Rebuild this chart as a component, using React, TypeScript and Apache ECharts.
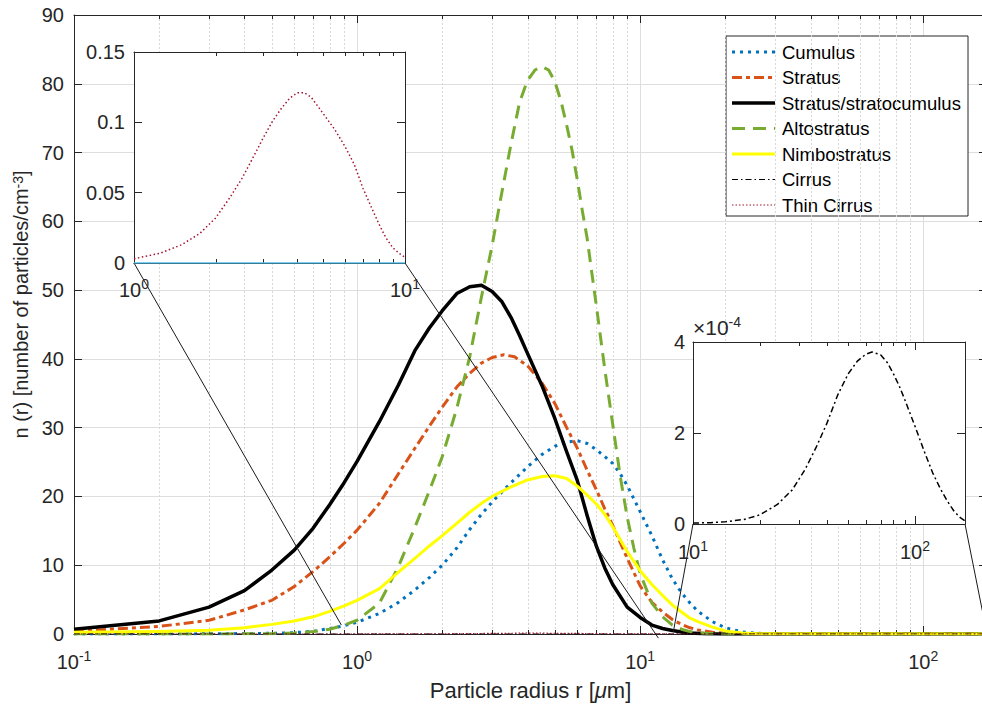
import React, { useEffect, useRef } from "react";
import * as echarts from "echarts";

// ---------------- DATA ----------------
// Main plot: particle radius r [µm] vs n(r) [particles / cm^-3]
const cumulusR = [0.1, 0.3, 0.5, 0.6, 0.7, 0.8, 0.9, 1.0, 1.2, 1.4, 1.6, 1.8, 2.0, 2.25, 2.5, 2.75, 3.0, 3.5, 4.0, 4.5, 5.0, 5.5, 6.0, 6.5, 7.0, 7.5, 8.0, 8.5, 9.0, 10, 11, 12, 13, 14, 15, 16, 18, 20, 23, 26, 30, 168];
const cumulusN = [0, 0.02, 0.1, 0.2, 0.4, 0.8, 1.2, 1.7, 3.0, 4.6, 6.4, 8.2, 10.0, 12.5, 15.2, 17.4, 19.2, 22.0, 24.3, 26.1, 27.3, 27.9, 28.1, 27.7, 26.8, 25.8, 24.8, 23.3, 21.6, 17.8, 14.3, 10.8, 8.0, 6.0, 4.5, 3.3, 1.8, 0.9, 0.3, 0.1, 0, 0];

const stratusR = [0.1, 0.2, 0.3, 0.4, 0.5, 0.6, 0.7, 0.8, 0.9, 1.0, 1.2, 1.4, 1.6, 1.8, 2.0, 2.25, 2.5, 2.75, 3.0, 3.3, 3.6, 4.0, 4.5, 5.0, 5.5, 6.0, 6.5, 7.0, 7.5, 8.0, 9.0, 10, 11, 12, 13, 14, 15, 16, 18, 20, 25, 168];
const stratusN = [0.4, 1.1, 2.0, 3.5, 4.9, 6.9, 9.1, 11.2, 13.2, 15.1, 19.0, 23.3, 27.0, 30.2, 33.0, 35.9, 37.9, 39.4, 40.2, 40.6, 40.3, 39.0, 36.5, 33.5, 30.0, 27.0, 23.8, 21.0, 18.2, 15.8, 11.0, 7.0, 4.6, 3.2, 2.1, 1.4, 0.9, 0.6, 0.25, 0.1, 0, 0];

const stratocumulusR = [0.1, 0.2, 0.3, 0.4, 0.5, 0.6, 0.7, 0.8, 0.9, 1.0, 1.2, 1.4, 1.6, 1.8, 2.0, 2.25, 2.5, 2.75, 3.0, 3.25, 3.5, 3.75, 4.0, 4.5, 5.0, 5.5, 6.0, 6.5, 7.0, 7.5, 8.0, 9.0, 10, 11, 12, 13, 14, 15, 17, 20, 30, 168];
const stratocumulusN = [0.7, 1.9, 3.9, 6.3, 9.3, 12.2, 15.4, 18.8, 22.0, 25.1, 30.9, 36.2, 41.2, 44.5, 47.0, 49.5, 50.5, 50.7, 49.8, 48.3, 46.0, 43.4, 40.8, 36.1, 31.3, 26.5, 22.3, 17.2, 12.8, 9.6, 7.2, 3.9, 2.4, 1.3, 0.8, 0.5, 0.3, 0.15, 0.05, 0, 0, 0];

const altostratusR = [0.1, 0.4, 0.5, 0.6, 0.7, 0.8, 0.9, 1.0, 1.2, 1.4, 1.6, 1.8, 2.0, 2.25, 2.5, 2.75, 3.0, 3.25, 3.5, 3.75, 4.0, 4.25, 4.5, 4.75, 5.0, 5.25, 5.5, 5.75, 6.0, 6.25, 6.5, 6.75, 7.0, 7.5, 8.0, 8.5, 9.0, 9.5, 10, 11, 12, 13, 14, 15, 17, 20, 168];
const altostratusN = [0, 0.02, 0.05, 0.15, 0.35, 0.7, 1.3, 2.0, 4.5, 9.8, 15.5, 20.8, 25.8, 32.8, 40.3, 49.0, 56.5, 64.3, 71.3, 77.3, 80.5, 82.0, 82.5, 82.0, 80.3, 77.5, 74.0, 70.3, 66.0, 61.5, 57.5, 52.5, 47.8, 38.5, 30.5, 23.0, 17.0, 12.5, 8.8, 4.5, 2.5, 1.3, 0.7, 0.35, 0.1, 0, 0];

const nimbostratusR = [0.1, 0.2, 0.3, 0.4, 0.5, 0.6, 0.7, 0.8, 0.9, 1.0, 1.2, 1.4, 1.6, 1.8, 2.0, 2.25, 2.5, 2.75, 3.0, 3.5, 4.0, 4.5, 5.0, 5.5, 6.0, 6.5, 7.0, 7.5, 8.0, 9.0, 10, 11, 12, 13, 14, 15, 16, 18, 20, 23, 26, 168];
const nimbostratusN = [0.25, 0.35, 0.55, 0.9, 1.4, 1.9, 2.5, 3.3, 4.1, 4.9, 6.6, 9.0, 11.0, 12.8, 14.3, 16.1, 17.7, 19.0, 20.0, 21.4, 22.4, 22.9, 23.0, 22.6, 21.5, 20.2, 18.9, 17.4, 15.6, 12.0, 9.2, 7.2, 5.6, 4.2, 3.2, 2.3, 1.8, 1.0, 0.45, 0.15, 0.05, 0];

// Cirrus (inset, r from 10 to 168 µm), values in particles/cm^-3
const cirrusR = [10, 12, 14, 17, 20, 24, 28, 32, 36, 40, 45, 50, 55, 60, 64, 70, 75, 80, 85, 90, 100, 110, 120, 130, 140, 150, 160, 168];
const cirrusN = [0.000002, 0.000003, 0.000005, 0.00001, 0.00002, 0.000043, 0.000075, 0.00012, 0.00017, 0.00022, 0.000285, 0.00033, 0.000358, 0.000373, 0.000378, 0.000372, 0.000355, 0.00033, 0.000303, 0.000273, 0.000215, 0.00016, 0.000113, 0.000078, 0.00005, 0.000028, 0.000014, 0.000007];
// Cirrus outside the inset range (flat at zero in the main plot)
const cirrusLowR = [0.1];
const cirrusLowN = [0];

// Thin cirrus (inset, r from 1 to 10 µm)
const thinCirrusR = [1, 1.25, 1.5, 1.75, 2.0, 2.25, 2.5, 2.75, 3.0, 3.25, 3.5, 3.75, 4.0, 4.25, 4.5, 5.0, 5.5, 6.0, 6.5, 7.0, 7.5, 8.0, 8.5, 9.0, 9.5, 10];
const thinCirrusN = [0.003, 0.007, 0.013, 0.021, 0.032, 0.046, 0.06, 0.075, 0.089, 0.101, 0.11, 0.117, 0.121, 0.121, 0.118, 0.106, 0.095, 0.083, 0.07, 0.053, 0.04, 0.028, 0.018, 0.011, 0.007, 0.004];
const thinCirrusLowR = [0.1];
const thinCirrusLowN = [0];
const thinCirrusHighR = [168];
const thinCirrusHighN = [0];

// Flat baseline drawn in the first inset
const inset1BaseR = [1, 10];
const inset1BaseN = [0, 0];

// Axis ranges and ticks
const mainXMin = 0.1;
const mainXMax = 168;
const mainYMin = 0;
const mainYMax = 90;
const mainYStep = 10;
const inset1XMin = 1;
const inset1XMax = 10;
const inset1YMax = 0.15;
const inset1YStep = 0.05;
const inset2XMin = 10;
const inset2XMax = 168;
const inset2YMax = 0.0004;
const inset2YStep = 0.0002;
const minorMain = [0.2, 0.3, 0.4, 0.5, 0.6, 0.7, 0.8, 0.9, 2, 3, 4, 5, 6, 7, 8, 9, 20, 30, 40, 50, 60, 70, 80, 90];
const minorInset1 = [2, 3, 4, 5, 6, 7, 8, 9];
const minorInset2 = [20, 30, 40, 50, 60, 70, 80, 90];

// Zoom connector lines: [inset corner in inset coords] -> [point in main coords]
const connInset1From = [[1, 0], [10, 0]];
const connInset1To = [[0.88, 1.3], [11.6, -0.6]];
const connInset2From = [[10, 0], [168, 0]];
const connInset2To = [[13.1, 0.3], [168, 0]];

const legendNames = ["Cumulus", "Stratus", "Stratus/stratocumulus", "Altostratus", "Nimbostratus", "Cirrus", "Thin Cirrus"];

// ---------------- STYLE ----------------
const FONT = "'Liberation Sans', Arial, Helvetica, sans-serif";
const AX = "#262626";
const C_CU = "#0072BD";
const C_ST = "#D95319";
const C_SC = "#000000";
const C_AL = "#77AC30";
const C_NI = "#FFFF00";
const C_CI = "#000000";
const C_TC = "#A2142F";

const styles = [
  { color: C_CU, width: 3, type: [3, 5] },
  { color: C_ST, width: 3, type: [10, 4, 4, 4] },
  { color: C_SC, width: 3.5, type: "solid" },
  { color: C_AL, width: 3, type: [13, 8] },
  { color: C_NI, width: 3, type: "solid" },
  { color: C_CI, width: 1.2, type: [6, 3, 1.5, 3] },
  { color: C_TC, width: 1.2, type: [1.5, 2] },
];

function pairs(r: number[], n: number[]) {
  return r.map((x, i) => [x, n[i]]);
}

const logLabel = (v: number) => {
  const e = Math.log10(v);
  const k = Math.round(e);
  if (Math.abs(e - k) > 1e-6) return "";
  return `{b|10}{s|${k}}`;
};

const tickRich = (size: number) => ({
  b: { fontSize: size, fontFamily: FONT, color: AX, lineHeight: 26 },
  s: { fontSize: Math.round(size * 0.7), fontFamily: FONT, color: AX, lineHeight: 14, verticalAlign: "top" },
});

function minorSeries(values: number[], xi: number, yi: number, z: number, grid: boolean) {
  return {
    type: "custom",
    xAxisIndex: xi,
    yAxisIndex: yi,
    z,
    silent: true,
    clip: false,
    data: values.map((v) => [v, 0]),
    renderItem: (params: any, api: any) => {
      const cs = params.coordSys;
      const x = Math.round(api.coord([api.value(0), 0])[0]) + 0.5;
      const top = cs.y;
      const bot = cs.y + cs.height;
      const children: any[] = [];
      if (grid) {
        children.push({
          type: "line",
          shape: { x1: x, y1: top, x2: x, y2: bot },
          style: { stroke: "#d8d8d8", lineWidth: 1, lineDash: [2, 2] },
        });
      }
      children.push({ type: "line", shape: { x1: x, y1: bot, x2: x, y2: bot - 4 }, style: { stroke: AX, lineWidth: 1 } });
      children.push({ type: "line", shape: { x1: x, y1: top, x2: x, y2: top + 4 }, style: { stroke: AX, lineWidth: 1 } });
      return { type: "group", children };
    },
  };
}

function lineSeries(name: string | undefined, data: number[][], st: any, xi: number, yi: number, z: number) {
  return {
    type: "line",
    name,
    data,
    xAxisIndex: xi,
    yAxisIndex: yi,
    symbol: "none",
    showSymbol: false,
    smooth: false,
    silent: true,
    z,
    lineStyle: { color: st.color, width: st.width, type: st.type, cap: "butt", join: "round" },
  };
}

function xAx(gridIndex: number, min: number, max: number, top: boolean, labels: boolean, margin: number, z: number, split: boolean) {
  return {
    type: "log",
    logBase: 10,
    gridIndex,
    min,
    max,
    position: top ? "top" : "bottom",
    z,
    axisLine: { show: true, onZero: false, lineStyle: { color: AX, width: 1 } },
    axisTick: { show: true, inside: true, length: 8, lineStyle: { color: AX, width: 1 } },
    axisLabel: labels
      ? { show: true, margin, interval: 0, formatter: logLabel, rich: tickRich(20), hideOverlap: false }
      : { show: false },
    splitLine: { show: split, lineStyle: { color: "#dedede", width: 1 } },
  };
}

function yAx(gridIndex: number, min: number, max: number, interval: number, right: boolean, labels: boolean, margin: number, z: number, split: boolean, fmt?: (v: number) => string) {
  return {
    type: "value",
    gridIndex,
    min,
    max,
    interval,
    position: right ? "right" : "left",
    z,
    axisLine: { show: true, onZero: false, lineStyle: { color: AX, width: 1 } },
    axisTick: { show: true, inside: true, length: 8, lineStyle: { color: AX, width: 1 } },
    axisLabel: labels
      ? { show: true, margin, fontSize: 20, fontFamily: FONT, color: AX, formatter: fmt }
      : { show: false },
    splitLine: { show: split, lineStyle: { color: "#dedede", width: 1 } },
  };
}

export default function App() {
  const ref = useRef<HTMLDivElement>(null);

  useEffect(() => {
    const el = ref.current;
    if (!el) return;
    const chart = echarts.init(el, undefined, { renderer: "svg" });

    const xAxes: any[] = [
      { ...xAx(0, mainXMin, mainXMax, false, true, 15, 0, true),
        name: "Particle radius r [{i|μ}m]",
        nameLocation: "middle",
        nameGap: 45,
        nameTextStyle: {
          fontSize: 22, fontFamily: FONT, color: AX,
          rich: {
            i: { fontSize: 22, fontFamily: FONT, color: AX, fontStyle: "italic" },
          },
        },
      },
      xAx(0, mainXMin, mainXMax, true, false, 0, 0, false),
      xAx(1, inset1XMin, inset1XMax, false, true, 14, 6, false),
      xAx(1, inset1XMin, inset1XMax, true, false, 0, 6, false),
      xAx(2, inset2XMin, inset2XMax, false, true, 15, 6, false),
      xAx(2, inset2XMin, inset2XMax, true, false, 0, 6, false),
    ];

    const yAxes: any[] = [
      { ...yAx(0, mainYMin, mainYMax, mainYStep, false, true, 10, 0, true),
        name: "n (r) [number of particles/cm{s|-3}]",
        nameLocation: "middle",
        nameRotate: 90,
        nameGap: 40,
        nameTextStyle: {
          fontSize: 20, fontFamily: FONT, color: AX,
          padding: [0, 0, 0, 40],
          rich: {
            s: { fontSize: 14, fontFamily: FONT, color: AX, verticalAlign: "top", lineHeight: 13 },
          },
        },
      },
      yAx(0, mainYMin, mainYMax, mainYStep, true, false, 0, 0, false),
      yAx(1, 0, inset1YMax, inset1YStep, false, true, 9, 6, false),
      yAx(1, 0, inset1YMax, inset1YStep, true, false, 0, 6, false),
      { ...yAx(2, 0, inset2YMax, inset2YStep, false, true, 8, 6, false, (v: number) => String(Math.round(v * 1e4))),
        name: "{a|×10}{s|-4}",
        nameLocation: "end",
        nameGap: 3,
        nameTextStyle: {
          align: "left",
          rich: {
            a: { fontSize: 21, fontFamily: FONT, color: AX, lineHeight: 24 },
            s: { fontSize: 14, fontFamily: FONT, color: AX, lineHeight: 13, verticalAlign: "top" },
          },
        },
      },
      yAx(2, 0, inset2YMax, inset2YStep, true, false, 0, 6, false),
    ];

    const mainData = [
      pairs(cumulusR, cumulusN),
      pairs(stratusR, stratusN),
      pairs(stratocumulusR, stratocumulusN),
      pairs(altostratusR, altostratusN),
      pairs(nimbostratusR, nimbostratusN),
      pairs(cirrusLowR, cirrusLowN).concat(pairs(cirrusR, cirrusN)),
      pairs(thinCirrusLowR, thinCirrusLowN).concat(pairs(thinCirrusR, thinCirrusN), pairs(thinCirrusHighR, thinCirrusHighN)),
    ];

    const series: any[] = [
      minorSeries(minorMain, 0, 0, 1, true),
      ...mainData.map((d, i) => lineSeries(legendNames[i], d, styles[i], 0, 0, 2)),
      lineSeries(undefined, pairs(inset1BaseR, inset1BaseN), { color: "#4DBEEE", width: 1.5, type: "solid" }, 2, 2, 7),
      lineSeries(undefined, pairs(thinCirrusR, thinCirrusN), { color: C_TC, width: 1.5, type: [1.5, 2.5] }, 2, 2, 7),
      lineSeries(undefined, pairs(cirrusR, cirrusN), { color: C_CI, width: 1.5, type: [6, 3, 2, 3] }, 4, 4, 7),
      minorSeries(minorInset1, 2, 2, 7, false),
      minorSeries(minorInset2, 4, 4, 7, false),
    ];

    chart.setOption({
      animation: false,
      backgroundColor: "#ffffff",
      textStyle: { fontFamily: FONT },
      grid: [
        { left: 74, top: 15, width: 913, height: 619, show: false, z: 0 },
        { left: 134, top: 52, width: 271, height: 211, show: true, backgroundColor: "#ffffff", borderWidth: 0, z: 5 },
        { left: 693, top: 342, width: 272, height: 182, show: true, backgroundColor: "#ffffff", borderWidth: 0, z: 5 },
      ],
      xAxis: xAxes,
      yAxis: yAxes,
      series,
    });

    // connectors between insets and main plot
    const toPx = (xi: number, pt: number[]) =>
      chart.convertToPixel({ xAxisIndex: xi, yAxisIndex: xi } as any, pt) as number[];
    const connectors: any[] = [];
    const addConn = (xi: number, from: number[][], to: number[][]) => {
      from.forEach((f, i) => {
        const a = toPx(xi, f);
        const b = toPx(0, to[i]);
        connectors.push({
          type: "line",
          z: 3,
          silent: true,
          shape: { x1: a[0], y1: a[1], x2: b[0], y2: b[1] },
          style: { stroke: "#1a1a1a", lineWidth: 1 },
        });
      });
    };
    addConn(2, connInset1From, connInset1To);
    addConn(4, connInset2From, connInset2To);

    // legend (drawn to reproduce MATLAB line samples)
    const legendChildren: any[] = [
      { type: "rect", shape: { x: 0, y: 0, width: 242, height: 180 }, style: { fill: "#ffffff", stroke: AX, lineWidth: 1 } },
    ];
    legendNames.forEach((name, i) => {
      const y = 16 + 25.5 * i;
      const st = styles[i];
      legendChildren.push({
        type: "line",
        shape: { x1: 6, y1: y, x2: 49, y2: y },
        style: {
          stroke: st.color,
          lineWidth: st.width,
          lineDash: Array.isArray(st.type) ? st.type : null,
          lineCap: "butt",
        },
      });
      legendChildren.push({
        type: "text",
        x: 56,
        y,
        style: { text: name, fontSize: 18.5, fontFamily: FONT, fill: "#000000", verticalAlign: "middle", align: "left" },
      });
    });

    chart.setOption({
      graphic: [
        ...connectors,
        { type: "group", x: 726, y: 36, z: 10, silent: true, children: legendChildren },
      ],
    });

    return () => chart.dispose();
  }, []);

  return (
    <div style={{ position: "fixed", left: 0, top: 0, width: 982, height: 706, overflow: "hidden", background: "#ffffff" }}>
      <div ref={ref} style={{ width: 1000, height: 706 }} />
    </div>
  );
}
